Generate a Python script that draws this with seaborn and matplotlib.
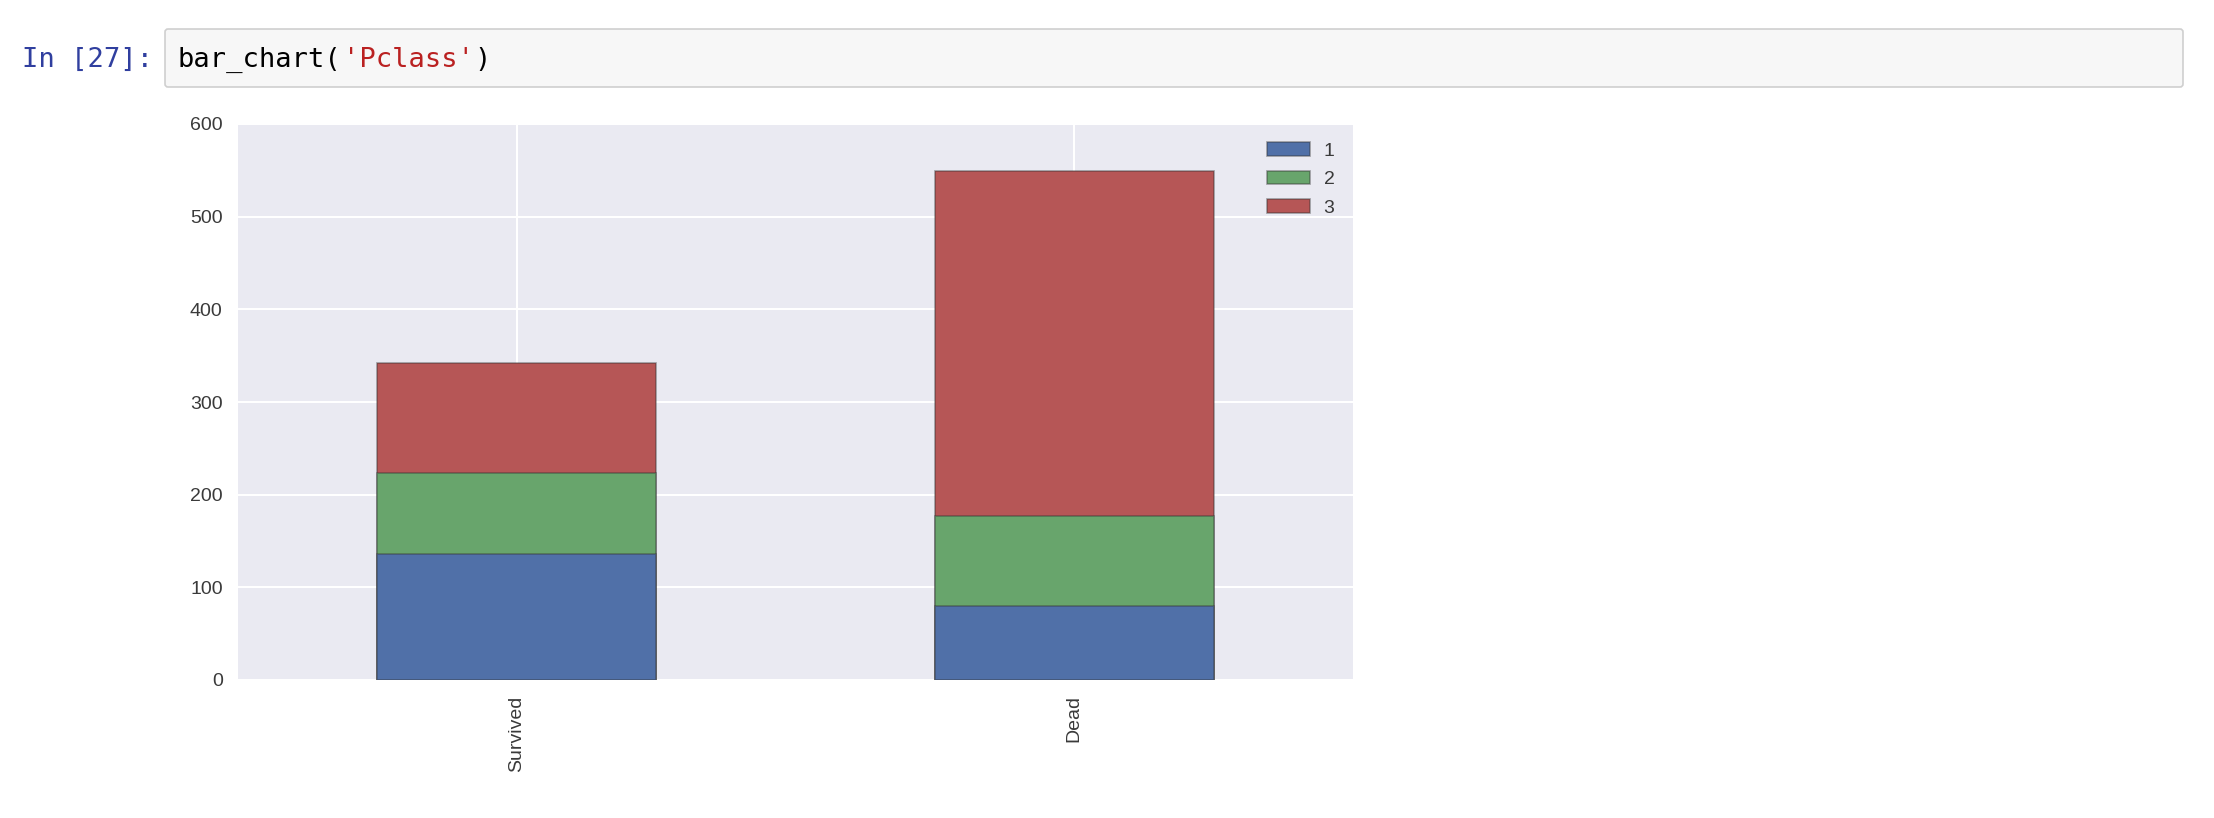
import numpy as np
import pandas as pd
import matplotlib

matplotlib.use('Agg')
import matplotlib.pyplot as plt
from matplotlib.patches import FancyBboxPatch, Patch
import seaborn as sns

# Titanic counts by outcome and passenger class
outcomes = ['Survived', 'Dead']
classes = ['1', '2', '3']
class1 = [136, 80]
class2 = [87, 97]
class3 = [119, 372]
colors = ['#5070a8', '#68a56c', '#b65656']


def plot():
    sns.set_style('darkgrid')
    plt.rcParams['font.family'] = ['Liberation Sans', 'DejaVu Sans']

    df = pd.DataFrame({'outcome': outcomes, '1': class1, '2': class2, '3': class3})
    # running totals so the bars can be layered back to front
    df['c1'] = df['1']
    df['c2'] = df['1'] + df['2']
    df['c3'] = df['c2'] + df['3']

    fig = plt.figure(figsize=(22.14, 8.18), dpi=100)
    ax = fig.add_axes([238 / 2214, 1 - 680 / 818, (1353 - 238) / 2214, (680 - 124) / 818])
    ax.set_facecolor('#EAEAF2')

    edge = (0.2, 0.2, 0.2, 0.45)
    for col, color in zip(['c3', 'c2', 'c1'], colors[::-1]):
        sns.barplot(data=df, x='outcome', y=col, color=color, width=0.5, saturation=1,
                    edgecolor=edge, linewidth=1.2, ax=ax, zorder=2)

    ax.set_xlim(-0.5, 1.5)
    ax.set_ylim(0, 600)
    ax.set_yticks(range(0, 601, 100))
    ax.set_xlabel('')
    ax.set_ylabel('')
    ax.grid(True, color='white', linewidth=1.5)
    ax.set_axisbelow(True)
    for s in ax.spines.values():
        s.set_visible(False)
    ax.tick_params(length=0, pad=11, labelsize=14, labelcolor='#3a3a3a')
    plt.setp(ax.get_xticklabels(), rotation=90)

    handles = [Patch(facecolor=c, edgecolor=edge, linewidth=1.2) for c in colors]
    ax.legend(handles, classes, loc='upper right', frameon=False, fontsize=14,
              handlelength=2.2, handleheight=0.7, labelspacing=0.55, handletextpad=0.7,
              borderaxespad=0.55, labelcolor='#3a3a3a')

    # notebook input cell above the figure
    box = FancyBboxPatch((1.65, (818 - 87) / 100), 20.18, 0.58,
                         boxstyle='round,pad=0,rounding_size=0.03',
                         transform=fig.dpi_scale_trans, facecolor='#F7F7F7',
                         edgecolor='#CFCFCF', linewidth=1.2)
    fig.add_artist(box)
    ty = 1 - 67 / 818
    mono = 'DejaVu Sans Mono'
    fig.text(22 / 2214, ty, 'In [27]:', family=mono, fontsize=19.5, color='#303F9F', va='baseline')
    cw = 16.45
    x0 = 178
    fig.text(x0 / 2214, ty, 'bar_chart(', family=mono, fontsize=19.5, color='black', va='baseline')
    fig.text((x0 + 10 * cw) / 2214, ty, "'Pclass'", family=mono, fontsize=19.5, color='#BA2121', va='baseline')
    fig.text((x0 + 18 * cw) / 2214, ty, ')', family=mono, fontsize=19.5, color='black', va='baseline')

    fig.savefig('out.png', dpi=100, facecolor='white')


if __name__ == '__main__':
    plot()
